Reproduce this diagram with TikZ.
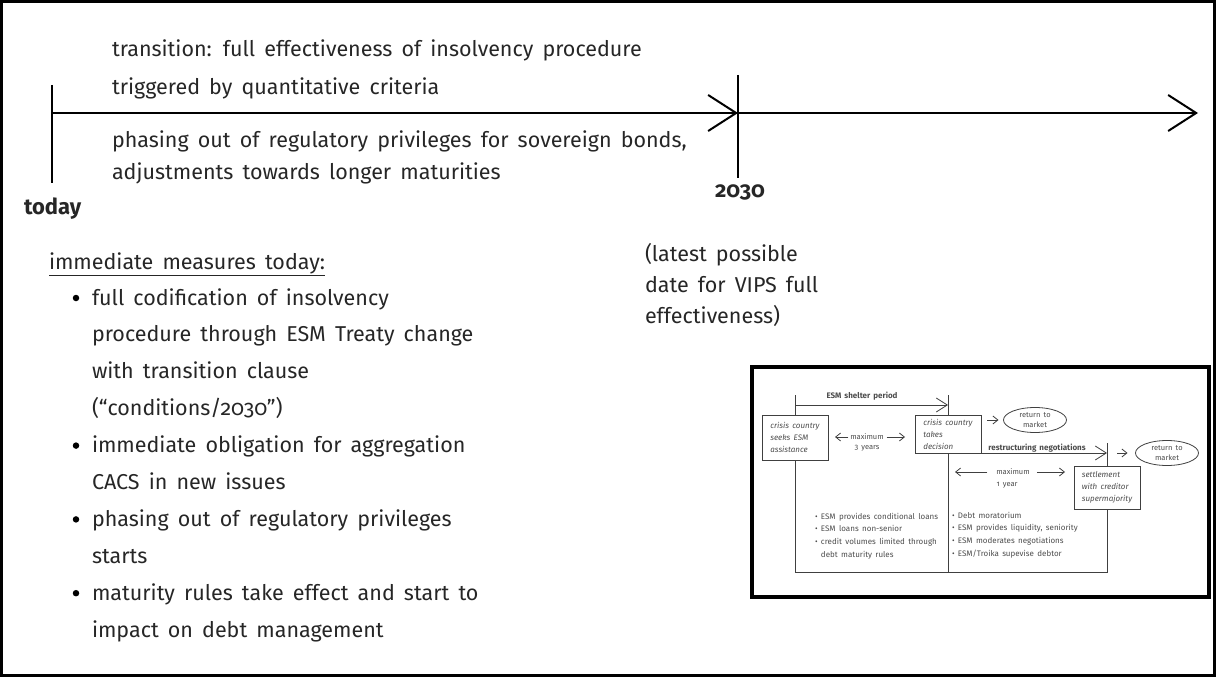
\documentclass[tikz,border=0pt]{standalone}
\usepackage{fontspec}
\setmainfont{Fira Sans}[Numbers=OldStyle, WordSpace=1.6]
\usetikzlibrary{arrows.meta,shapes.geometric}

\begin{document}
\begin{tikzpicture}[x=1pt, y=-1pt, line width=2pt,
    every node/.style={inner sep=0pt, outer sep=0pt, text=black!85},
    txt/.style={anchor=base west, font=\fontsize{21.5}{25}\selectfont},
    hd/.style={font=\fontsize{22}{25}\selectfont\bfseries},
    chev/.style={-{Straight Barb[length=28pt,width=36pt]}},
    dot/.style={circle, fill=black, minimum size=6.5pt},
    sm/.style={font=\fontsize{7.5}{12.7}\selectfont, text=black!70, align=center},
    smb/.style={sm, font=\fontsize{8}{12.7}\selectfont\bfseries},
    lst/.style={sm, font=\fontsize{8}{12.7}\selectfont, align=left, anchor=west},
    box/.style={draw=black!75, line width=0.8pt, minimum width=66pt, inner sep=3pt,
        font=\fontsize{8}{12}\selectfont\itshape, text=black!70, align=left},
    mkt/.style={ellipse, draw=black!75, line width=0.8pt, minimum width=63pt,
        minimum height=25pt, font=\fontsize{7.5}{10}\selectfont, text=black!70, align=center},
    thin/.style={draw=black!75, line width=0.8pt},
    tiptop/.style={-{Straight Barb[length=11pt,width=14pt]}},
    tipsm/.style={-{Straight Barb[length=5pt,width=8pt]}}]
\useasboundingbox (0,0) rectangle (1216,677);
\draw[line width=3pt] (1.5,1.5) rectangle (1214.5,675.5);

% time line
\coordinate (start) at (52,113);
\coordinate (mid) at (738,113);
\coordinate (end) at (1198,113);
\coordinate (t1) at (52,85);
\coordinate (t2) at (52,183);
\coordinate (y1) at (738,75);
\coordinate (y2) at (738,178);
\draw[chev] (start) -- (mid);
\draw[chev] (mid) -- (end);
\draw (t1) -- (t2);
\draw (y1) -- (y2);
\node[hd, anchor=base west] (today) at (24,214) {today};
\node[hd] (year) at (740,192) {2030};

\node[txt] (tr1) at (112,57) {transition: full effectiveness of insolvency procedure};
\node[txt] (tr2) at (112,95) {triggered by quantitative criteria};
\node[txt] (ph1) at (112,147) {phasing out of regulatory privileges for sovereign bonds,};
\node[txt] (ph2) at (112,179) {adjustments towards longer maturities};

\node[txt] (lt1) at (645,261) {(latest possible};
\node[txt] (lt2) at (645,292) {date for VIPS full};
\node[txt] (lt3) at (645,323) {effectiveness)};

% immediate measures
\node[txt] (imm) at (49,269) {\underline{immediate measures today:}};
\foreach \t [count=\i from 0] in {{full codification of insolvency},
    {procedure through ESM Treaty change}, {with transition clause},
    {(“conditions/2030”)}, {immediate obligation for aggregation},
    {CACS in new issues}, {phasing out of regulatory privileges}, {starts},
    {maturity rules take effect and start to}, {impact on debt management}}
  \node[txt] (m\i) at (92,305+36.9*\i) {\t};
\foreach \i in {0,4,6,8}
  \node[dot] (b\i) at (76,298+36.9*\i) {};

% inset
\draw[line width=4pt] (752,367) rectangle (1209,597);
\node[box, minimum height=45pt] (box1) at (795,437.5) {crisis country\\seeks ESM\\assistance};
\node[box, minimum height=38pt] (box2) at (948,434) {crisis country\\takes\\decision};
\node[box, minimum height=43pt] (box3) at (1107,487.5) {settlement\\with creditor\\supermajority};
\node[mkt] (ell1) at (1035,420) {return to\\market};
\node[mkt] (ell2) at (1167,453) {return to\\market};

\coordinate (ltop) at (795,395);
\coordinate (mtop) at (948,395);
\coordinate (rtop) at (1107,443);
\coordinate (lbot) at (795,572);
\coordinate (mbot) at (948,572);
\coordinate (rbot) at (1107,572);
\coordinate (lsh) at (795,405);
\coordinate (msh) at (948,405);
\coordinate (rs) at (box2.south east);

\draw[thin] (ltop) -- (box1.north) (box1.south) -- (lbot) -- (rbot) -- (box3.south)
    (box3.north) -- (rtop) (mtop) -- (box2.north) (box2.south) -- (mbot);
\draw[thin, tiptop] (lsh) -- (msh);
\draw[thin, tiptop] (rs) -- (rs -| rtop);
\draw[thin, tipsm, shorten <=6pt, shorten >=5pt] (box2.east |- ell1.west) -- (ell1.west);
\draw[thin, tipsm, shorten <=10pt, shorten >=8pt] (rtop |- ell2.west) -- (ell2.west);

\node[smb] (shel) at (862,396) {ESM shelter period};
\node[smb] (restr) at (1037,448) {restructuring negotiations};

\node[sm] (max1) at (867,437) {maximum};
\node[sm] (yr1) at (867,448) {3 years};
\node[sm] (max2) at (1013,472) {maximum};
\node[sm] (yr2) at (1007,485) {1 year};
\draw[thin, tipsm, shorten <=2pt, shorten >=7pt] (max1.west) -- (box1.east |- max1);
\draw[thin, tipsm, shorten <=3pt, shorten >=10pt] (max1.east) -- (box2.west |- max1);
\draw[thin, tipsm, shorten <=9pt, shorten >=7pt] (max2.west) -- (mbot |- max2);
\draw[thin, tipsm, shorten <=7pt, shorten >=9pt] (max2.east) -- (box3.west |- max2);

\node[lst] (esm1) at (815,536) {• ESM provides conditional loans\\• ESM loans non-senior\\• credit volumes limited through\\\phantom{• }debt maturity rules};
\node[lst] (esm2) at (952,535) {• Debt moratorium\\• ESM provides liquidity, seniority\\• ESM moderates negotiations\\• ESM/Troika supevise debtor};
\end{tikzpicture}
\end{document}
